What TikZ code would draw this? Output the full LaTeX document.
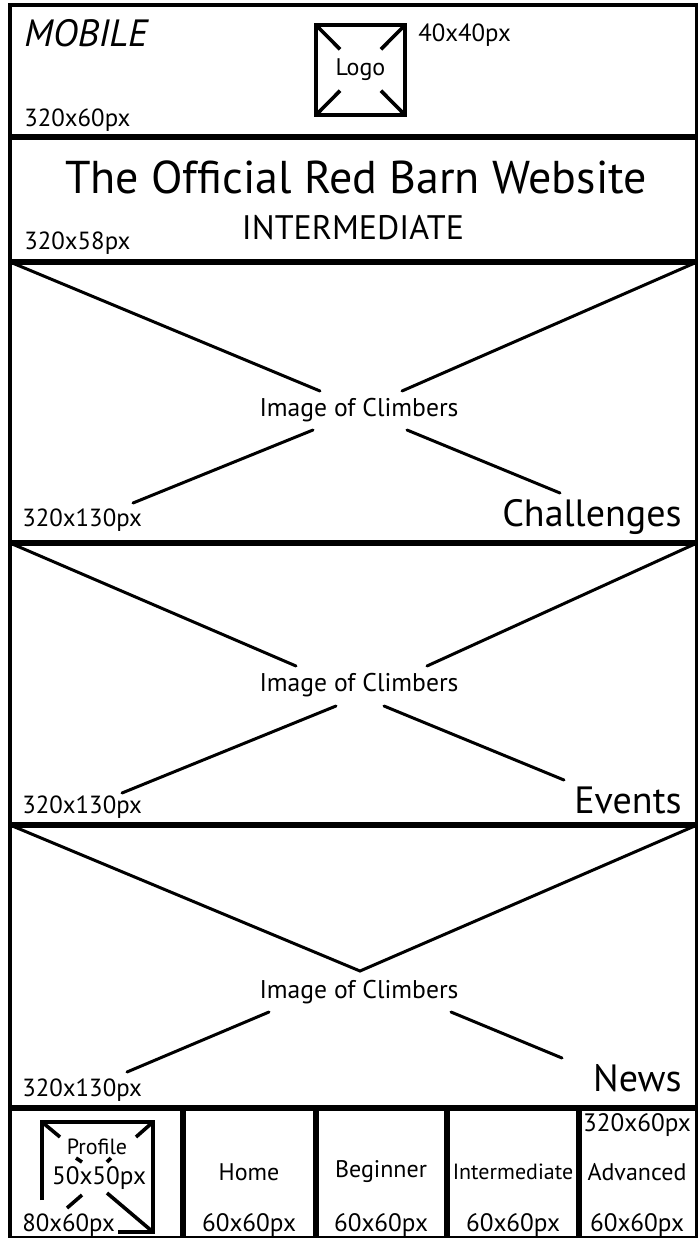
\documentclass[tikz,border=0pt]{standalone}
\usepackage{fontspec}
\setmainfont{PT Sans}
\usetikzlibrary{calc}

\tikzset{
  frameline/.style={line width=2pt},
  sepline/.style={line width=2.6pt},
  crossline/.style={line width=1.5pt, line cap=round},
  boxline/.style={line width=1.8pt},
  sizelabel/.style={inner sep=0pt, anchor=west, font=\fontsize{12.4}{15}\selectfont},
  imglabel/.style={inner sep=0pt, font=\fontsize{12.8}{16}\selectfont},
  sectlabel/.style={inner sep=0pt, anchor=east, font=\fontsize{19}{22}\selectfont},
  navlabel/.style={inner sep=0pt, font=\fontsize{12}{14}\selectfont}
}

\begin{document}
\begin{tikzpicture}[x=0.5pt,y=-0.5pt]
  \useasboundingbox (0,0) rectangle (697,1238);
  \fill[white] (0,0) rectangle (697,1238);
  \draw[frameline] (10,5) rectangle (697,1238);
  \draw[sepline] (10,137) -- (697,137);
  \draw[sepline] (10,262) -- (697,262);
  \draw[sepline] (10,543) -- (697,543);
  \draw[sepline] (10,825) -- (697,825);
  \draw[sepline] (10,1108) -- (697,1108);

  % header
  \node[sizelabel, font=\fontsize{19}{22}\selectfont\itshape] (mobile) at (24,33) {MOBILE};
  \node[sizelabel] (headsize) at (24,120) {320x60px};
  \coordinate (logoNW) at (316,25);
  \coordinate (logoSE) at (405,115);
  \coordinate (logoNE) at (405,25);
  \coordinate (logoSW) at (316,115);
  \draw[boxline] (logoNW) rectangle (logoSE);
  \node[inner sep=0pt, font=\fontsize{12}{14}\selectfont] (logo) at ($(logoNW)!0.5!(logoSE)$) {Logo};
  \draw[boxline] (logoNW) -- ($(logoNW)!0.27!(logoSE)$);
  \draw[boxline] (logoNE) -- ($(logoNE)!0.27!(logoSW)$);
  \draw[boxline] (logoSW) -- ($(logoSW)!0.27!(logoNE)$);
  \draw[boxline] (logoSE) -- ($(logoSE)!0.27!(logoNW)$);
  \node[sizelabel] (logosize) at (418,35) {40x40px};

  % title
  \node[inner sep=0pt, font=\fontsize{23}{27}\selectfont] (title) at (356,177) {The Official Red Barn Website};
  \node[inner sep=0pt, font=\fontsize{17}{20}\selectfont] (level) at (353,228) {INTERMEDIATE};
  \node[sizelabel] (titlesize) at (24,243) {320x58px};

  % challenges
  \draw[crossline] (10,262) -- (320,391);
  \draw[crossline] (697,262) -- (402,391);
  \draw[crossline] (313,430) -- (133,503);
  \draw[crossline] (407,430) -- (560,493);
  \node[imglabel] (imgA) at (359,410) {Image of Climbers};
  \node[sizelabel] (sizeA) at (22,520) {320x130px};
  \node[sectlabel] (challenges) at (682,517) {Challenges};

  % events
  \draw[crossline] (10,543) -- (296,666);
  \draw[crossline] (697,543) -- (427,666);
  \draw[crossline] (336,706) -- (122,793);
  \draw[crossline] (384,706) -- (564,780);
  \node[imglabel] (imgB) at (359,685) {Image of Climbers};
  \node[sizelabel] (sizeB) at (22,807) {320x130px};
  \node[sectlabel] (events) at (682,800) {Events};

  % news
  \draw[crossline] (10,825) -- (360,971) -- (697,825);
  \draw[crossline] (269,1012) -- (127,1072);
  \draw[crossline] (451,1012) -- (562,1058);
  \node[imglabel] (imgC) at (359,992) {Image of Climbers};
  \node[sizelabel] (sizeC) at (22,1090) {320x130px};
  \node[sectlabel] (news) at (682,1078) {News};

  % nav bar
  \draw[sepline] (183,1108) -- (183,1238);
  \draw[sepline] (316,1108) -- (316,1238);
  \draw[sepline] (447,1108) -- (447,1238);
  \draw[sepline] (579,1108) -- (579,1238);
  \draw[boxline] (42,1200) -- (42,1122) -- (153,1122) -- (153,1232) -- (118,1232);
  \draw[boxline] (42,1122) -- (60,1137);
  \draw[boxline] (153,1122) -- (136,1137);
  \draw[boxline] (76,1158) -- (82,1162);
  \draw[boxline] (111,1158) -- (107,1162);
  \draw[boxline] (82,1195) -- (67,1208);
  \draw[boxline] (107,1193) -- (153,1232);
  \node[navlabel, font=\fontsize{11}{13}\selectfont] (profile) at (97,1147) {Profile};
  \node[navlabel, font=\fontsize{12.6}{15}\selectfont] (profilesize) at (99,1178) {50x50px};
  \node[sizelabel] (navsizeA) at (22,1225) {80x60px};
  \node[navlabel] (home) at (249,1172) {Home};
  \node[navlabel] (beginner) at (381,1172) {Beginner};
  \node[navlabel, font=\fontsize{11}{13}\selectfont] (intermediate) at (513,1172) {Intermediate};
  \node[navlabel] (advanced) at (637,1172) {Advanced};
  \node[navlabel, font=\fontsize{12.6}{15}\selectfont] (navsizeB) at (249,1225) {60x60px};
  \node[navlabel, font=\fontsize{12.6}{15}\selectfont] (navsizeC) at (381,1225) {60x60px};
  \node[navlabel, font=\fontsize{12.6}{15}\selectfont] (navsizeD) at (513,1225) {60x60px};
  \node[navlabel, font=\fontsize{12.6}{15}\selectfont] (navsizeE) at (637,1225) {60x60px};
  \node[navlabel, font=\fontsize{12.6}{15}\selectfont] (navsize) at (637,1125) {320x60px};
\end{tikzpicture}
\end{document}
